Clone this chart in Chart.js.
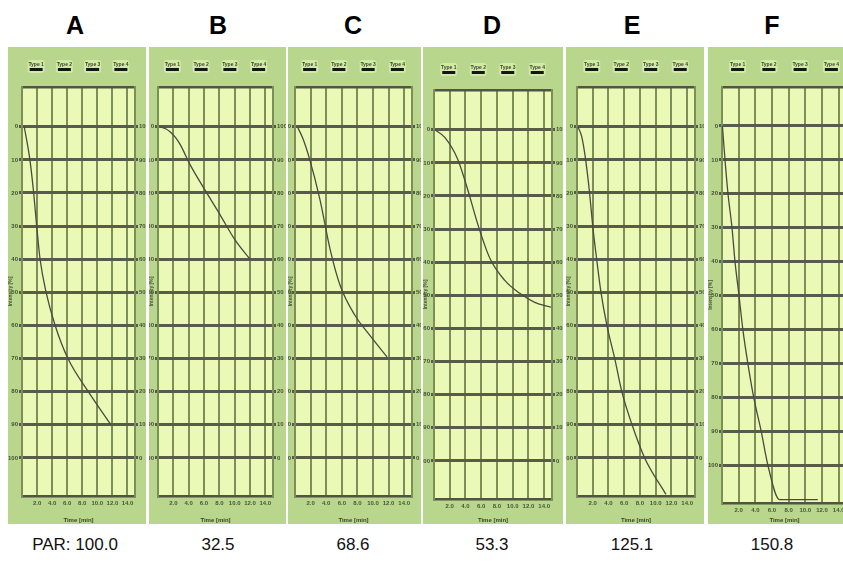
<!DOCTYPE html>
<html><head><meta charset="utf-8">
<script src="https://cdn.jsdelivr.net/npm/chart.js@4.4.1/dist/chart.umd.min.js"></script>
<style>
html,body{margin:0;padding:0;background:#fff;width:843px;height:567px;overflow:hidden;position:relative;font-family:"Liberation Sans",Arial,sans-serif;}
.panel{position:absolute;background:#b8d78c;}
.panel canvas{position:absolute;left:0;top:0;}
.letter{position:absolute;top:13px;width:60px;margin-left:-30px;text-align:center;font-weight:bold;font-size:25px;line-height:25px;color:#000;}
.par{position:absolute;top:536px;width:140px;margin-left:-70px;text-align:center;font-size:17px;line-height:17px;color:#111;}
</style></head><body>
<script>
// ---- data ----
const panelLetters = ['A','B','C','D','E','F'];
const parLabels = ['PAR: 100.0','32.5','68.6','53.3','125.1','150.8'];
const leftTicks = [0,10,20,30,40,50,60,70,80,90,100];
const rightTickLabels = [100,90,80,70,60,50,40,30,20,10,0];
const timeTicks = [2,4,6,8,10,12,14];
const legendLabels = ['Type 1','Type 2','Type 3','Type 4'];
const xTitle = 'Time [min]';
const yTitle = 'Intensity [%]';

const timeA  = [0.3, 1.05, 1.55, 1.95, 2.4, 3.2, 4.4, 6.1, 8.8, 11.8];
const valueA = [0, 10, 20, 30, 40, 50, 60, 70, 80, 90];

const timeB  = [0.25, 1.0, 1.6, 2.3, 2.9, 4.2, 6.1, 8.1, 10.0, 12.0];
const valueB = [0, 0.6, 1.6, 3.3, 5.4, 11.5, 19, 26.6, 34, 40];

const timeC  = [0.3, 1.0, 1.9, 3.2, 4.5, 5.8, 7.7, 9.6, 11.8];
const valueC = [0, 3.5, 10, 22, 37, 48, 57, 63, 69.5];

const timeD  = [0.1, 1.4, 3.05, 4.3, 5.6, 7.1, 9.0, 10.9, 12.8, 14.9];
const valueD = [0, 2.4, 9.1, 18.2, 28.8, 38.8, 45.5, 49.4, 52.1, 53.6];

const timeE  = [0.1, 0.6, 1.1, 1.6, 2.0, 2.5, 3.05, 3.8, 4.8, 5.7, 7.0, 8.6, 11.3];
const valueE = [0, 3, 10, 20, 30, 40, 50, 60, 70, 80, 90, 100, 111];

const timeF  = [0.05, 0.36, 0.72, 1.2, 1.56, 2.04, 2.5, 3.1, 3.8, 4.7, 5.5, 6.9, 11.5];
const valueF = [0, 10, 20, 30, 40, 50, 60, 70, 80, 90, 100, 110.2, 110.2];

// ---- layout (pixels) ----
const panelTop = 47, panelBottom = 524;
const panels = [
  {x:8,   w:138, plot:[22,135,87,496],  yr:[-12,111.5],  t:timeA, v:valueA, cx:75},
  {x:149, w:137, plot:[158,273,87,496], yr:[-12,111.5],  t:timeB, v:valueB, cx:218},
  {x:288, w:133, plot:[295,412,87,496], yr:[-12,111.5],  t:timeC, v:valueC, cx:353},
  {x:423, w:140, plot:[434,552,90,499], yr:[-12,111.5],  t:timeD, v:valueD, cx:492},
  {x:566, w:138, plot:[577,695,87,496], yr:[-12,111.5],  t:timeE, v:valueE, cx:632},
  {x:708, w:150, plot:[722,847,87,503], yr:[-11.5,111.2], t:timeF, v:valueF, cx:772}
];

Chart.defaults.font.family = '"Liberation Sans", Arial, sans-serif';

const areaPlugin = {
  id:'areaBg',
  beforeDraw(chart){
    const {ctx, chartArea:a} = chart;
    ctx.save();
    ctx.fillStyle = '#eafab6';
    ctx.fillRect(a.left, a.top, a.right-a.left, a.bottom-a.top);
    ctx.restore();
  }
};
const legendPlugin = {
  id:'typeLegend',
  afterDraw(chart){
    const {ctx, chartArea:a} = chart;
    const w = a.right - a.left;
    ctx.save();
    ctx.font = 'bold 5px "Liberation Sans", Arial, sans-serif';
    ctx.textAlign = 'center'; ctx.textBaseline = 'middle';
    legendLabels.forEach((lab,i)=>{
      const cx = a.left + (i+0.5)*w/4;
      const cy = a.top - 22;
      ctx.fillStyle = '#d2eaa6';
      ctx.beginPath();
      ctx.roundRect(cx-8.5, cy-5, 17, 13, 3);
      ctx.fill();
      ctx.fillStyle = '#3a4628';
      ctx.fillText(lab, cx, cy);
      ctx.fillStyle = '#151515';
      ctx.fillRect(cx-6.5, cy+3, 13, 3);
    });
    ctx.restore();
  }
};

panels.forEach((p,k)=>{
  const div = document.createElement('div');
  div.className = 'panel';
  const h = panelBottom - panelTop;
  div.style.left = p.x+'px'; div.style.top = panelTop+'px';
  div.style.width = p.w+'px'; div.style.height = h+'px';
  const cv = document.createElement('canvas');
  cv.width = p.w; cv.height = h;
  cv.style.width = p.w+'px'; cv.style.height = h+'px';
  div.appendChild(cv);
  document.body.appendChild(div);

  const L = p.plot[0]-p.x, R = p.x+p.w-p.plot[1];
  const T = p.plot[2]-panelTop, B = panelBottom-p.plot[3];
  const hLine = '#575b4b', vLine = '#7e8e58';

  new Chart(cv, {
    type:'line',
    data:{datasets:[{
      data: p.t.map((t,i)=>({x:t, y:p.v[i]})),
      borderColor:'#4a4b40', borderWidth:1.3, pointRadius:0,
      cubicInterpolationMode:'monotone', fill:false, xAxisID:'x', yAxisID:'y'
    }]},
    options:{
      responsive:false, animation:false, devicePixelRatio:1,
      layout:{padding:{top:T, left:0, right:0, bottom:0}},
      plugins:{legend:{display:false}, tooltip:{enabled:false}},
      scales:{
        x:{type:'linear', position:'bottom', min:0, max:15,
           afterBuildTicks:a=>{a.ticks = timeTicks.map(v=>({value:v}));},
           grid:{color:vLine, lineWidth:2, drawTicks:false},
           border:{display:true, color:'#4f5443', width:2.5},
           ticks:{font:{size:6, weight:'bold'}, color:'#4a5535', padding:4, maxRotation:0, autoSkip:false,
                  callback:v=>v.toFixed(1)},
           title:{display:true, text:xTitle, font:{size:6, weight:'bold'}, color:'#3a4528', padding:{top:5, bottom:0}},
           afterFit:s=>{s.height = B;}},
        xt:{type:'linear', position:'top', min:0, max:15,
           grid:{display:false, drawTicks:false}, ticks:{display:false},
           border:{display:true, color:'#4f5443', width:2.5},
           afterFit:s=>{s.height = 0;}},
        y:{type:'linear', position:'left', reverse:true, min:p.yr[0], max:p.yr[1],
           afterBuildTicks:a=>{a.ticks = leftTicks.map(v=>({value:v}));},
           grid:{color:hLine, lineWidth:3, tickLength:3},
           border:{display:true, color:vLine, width:2},
           ticks:{font:{size:6, weight:'bold'}, color:'#44502f', padding:1, autoSkip:false},
           title:{display:true, text:yTitle, font:{size:5, weight:'bold'}, color:'#4a5638', padding:0},
           afterFit:s=>{s.width = L;}},
        y2:{type:'linear', position:'right', reverse:true, min:p.yr[0], max:p.yr[1],
           afterBuildTicks:a=>{a.ticks = leftTicks.map(v=>({value:v}));},
           grid:{color:hLine, lineWidth:3, tickLength:3, drawOnChartArea:false},
           border:{display:true, color:vLine, width:2},
           ticks:{font:{size:6, weight:'bold'}, color:'#44502f', padding:1, autoSkip:false,
                  callback:(v,i)=>rightTickLabels[i]},
           afterFit:s=>{s.width = R;}}
      }
    },
    plugins:[areaPlugin, legendPlugin]
  });

  const le = document.createElement('div');
  le.className = 'letter'; le.style.left = p.cx+'px'; le.textContent = panelLetters[k];
  document.body.appendChild(le);
  const pa = document.createElement('div');
  pa.className = 'par'; pa.style.left = p.cx+'px'; pa.textContent = parLabels[k];
  document.body.appendChild(pa);
});
</script>
</body></html>
